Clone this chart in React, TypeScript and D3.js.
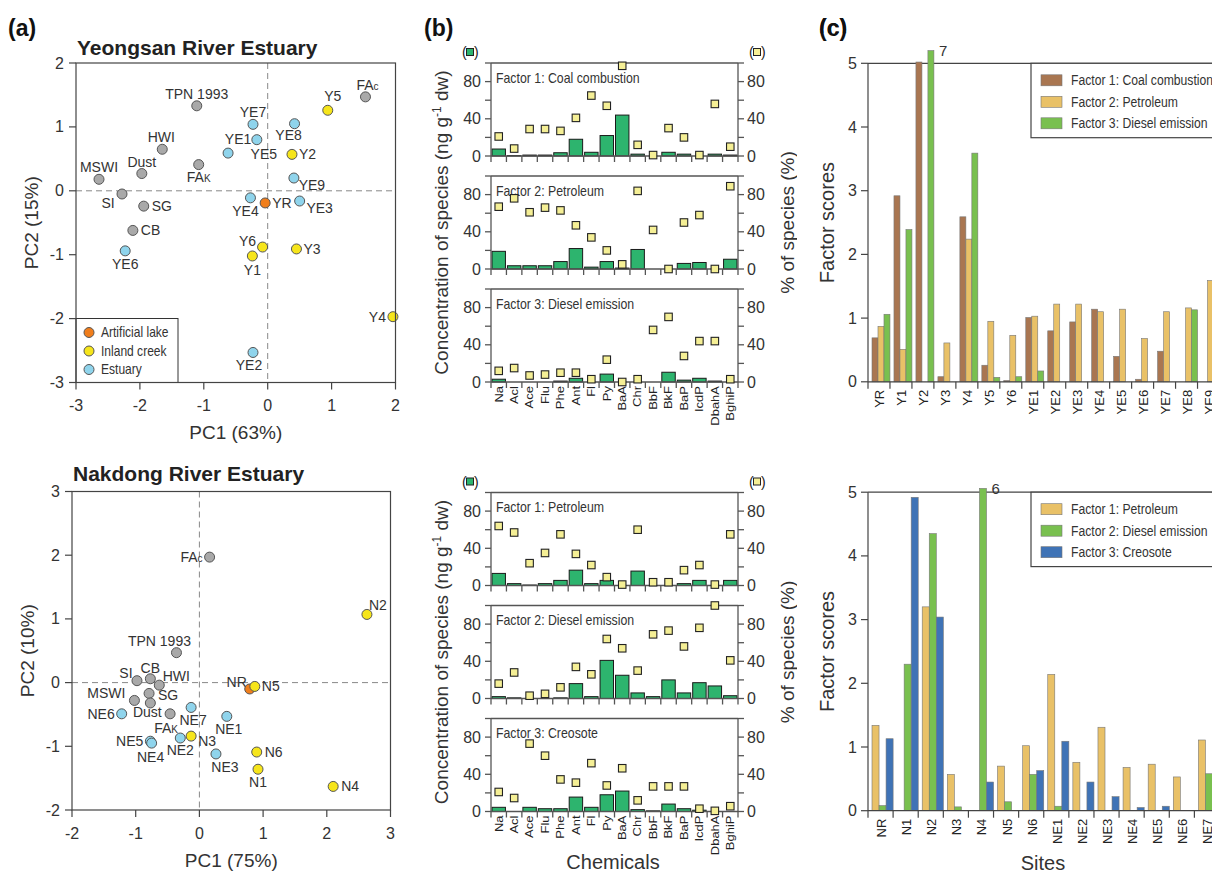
import React from 'react';
import * as d3 from 'd3';

const SANS = 'Arial, "Liberation Sans", Helvetica, sans-serif';

// ---------- (a) PCA scores ----------
const groupNames = ['Source', 'Artificial lake', 'Inland creek', 'Estuary'];
const groupFill = ['#a9a9a9', '#f07e1c', '#f6e51b', '#8fd4ec'];

const ysSites = ['FAc', 'TPN 1993', 'HWI', 'Dust', 'MSWI', 'FAk', 'SI', 'SG', 'CB',
  'YE7', 'YE1', 'YE5', 'YE8', 'YE9', 'YE4', 'YE3', 'YE6', 'YE2', 'YR', 'Y5', 'Y2', 'Y6', 'Y1', 'Y3', 'Y4'];
const ysPC1 = [1.53, -1.11, -1.65, -1.97, -2.64, -1.08, -2.28, -1.94, -2.11,
  -0.23, -0.62, -0.17, 0.42, 0.41, -0.27, 0.5, -2.23, -0.23, -0.04, 0.94, 0.38, -0.08, -0.24, 0.45, 1.96];
const ysPC2 = [1.47, 1.33, 0.65, 0.27, 0.18, 0.41, -0.05, -0.24, -0.62,
  1.04, 0.59, 0.8, 1.05, 0.2, -0.11, -0.16, -0.94, -2.53, -0.19, 1.26, 0.57, -0.88, -1.02, -0.91, -1.97];
const ysGroup = [0, 0, 0, 0, 0, 0, 0, 0, 0, 3, 3, 3, 3, 3, 3, 3, 3, 3, 1, 2, 2, 2, 2, 2, 2];

const ndSites = ['FAc', 'TPN 1993', 'SI', 'CB', 'HWI', 'MSWI', 'SG', 'Dust', 'FAk',
  'NE6', 'NE7', 'NE1', 'NE5', 'NE4', 'NE2', 'NE3', 'NR', 'N3', 'N5', 'N6', 'N1', 'N4', 'N2'];
const ndPC1 = [0.16, -0.36, -0.98, -0.77, -0.63, -1.02, -0.79, -0.77, -0.46,
  -1.22, -0.13, 0.43, -0.77, -0.75, -0.3, 0.26, 0.79, -0.13, 0.87, 0.9, 0.92, 2.1, 2.63];
const ndPC2 = [1.97, 0.47, 0.03, 0.06, -0.04, -0.28, -0.17, -0.32, -0.49,
  -0.49, -0.39, -0.53, -0.92, -0.95, -0.87, -1.12, -0.1, -0.84, -0.06, -1.09, -1.36, -1.63, 1.07];
const ndGroup = [0, 0, 0, 0, 0, 0, 0, 0, 0, 3, 3, 3, 3, 3, 3, 3, 1, 2, 2, 2, 2, 2, 2];

// label placement: [dx, dy, anchor]
const ysLabelPos: Record<string, [number, number, string]> = {
  FAc: [2, -12, 'middle'], 'TPN 1993': [0, -12, 'middle'], HWI: [-1, -12, 'middle'], Dust: [0, -12, 'middle'],
  MSWI: [0, -12, 'middle'], FAk: [0, 12, 'middle'], SI: [-14, 9, 'middle'], SG: [8, 0, 'start'], CB: [8, 0, 'start'],
  YE7: [0, -12, 'middle'], YE1: [10, -14, 'middle'], YE5: [7, 14, 'middle'], YE8: [-6, 11, 'middle'],
  YE9: [18, 7, 'middle'], YE4: [-5, 13, 'middle'], YE3: [20, 7, 'middle'], YE6: [0, 13, 'middle'],
  YE2: [-4, 13, 'middle'], YR: [7, 0, 'start'], Y5: [5, -14, 'middle'], Y2: [7, 0, 'start'],
  Y6: [-15, -6, 'middle'], Y1: [0, 14, 'middle'], Y3: [7, 0, 'start'], Y4: [-7, 0, 'end'],
};
const ndLabelPos: Record<string, [number, number, string]> = {
  FAc: [-7, 0, 'end'], N2: [11, -9, 'middle'], 'TPN 1993': [-17, -12, 'middle'], SI: [-11, -8, 'middle'],
  CB: [0, -11, 'middle'], HWI: [17, -9, 'middle'], MSWI: [-28, -7, 'middle'], SG: [19, 2, 'middle'],
  Dust: [-3, 9, 'middle'], FAk: [-4, 14, 'middle'], NE6: [-7, 0, 'end'], NE7: [2, 13, 'middle'],
  NE1: [2, 13, 'middle'], NE5: [-7, 0, 'end'], NE4: [-1, 14, 'middle'], NE2: [0, 12, 'middle'],
  N3: [16, 5, 'middle'], NE3: [9, 13, 'middle'], NR: [-13, -7, 'middle'], N5: [7, 0, 'start'],
  N6: [8, 0, 'start'], N1: [0, 13, 'middle'], N4: [8, 0, 'start'],
};

// ---------- (b) factor profiles ----------
const chemicals = ['Na', 'Acl', 'Ace', 'Flu', 'Phe', 'Ant', 'Fl', 'Py', 'BaA', 'Chr', 'BbF', 'BkF', 'BaP', 'IcdP', 'DbahA', 'BghiP'];

const ysFactorNames = ['Factor 1: Coal combustion', 'Factor 2: Petroleum', 'Factor 3: Diesel emission'];
const ysConc1 = [7.5, 0.5, 1, 1, 3.5, 18, 4, 22, 44, 2, 0, 4, 2, 0, 2, 1];
const ysPct1 = [21, 8, 29, 29, 27, 41, 65, 54, 97, 12, 1, 30, 20, 1, 56, 10];
const ysConc2 = [19, 3.5, 3.5, 3.5, 8, 22, 2, 8, 1, 21, 0, 0, 6, 7, 0, 10.5];
const ysPct2 = [67, 76, 61, 66, 63, 47, 34, 20, 5, 84, 42, 0, 50, 58, 0, 89];
const ysConc3 = [3, 0, 0, 0, 1, 4, 0, 8.5, 0, 0, 0, 10.5, 2, 4, 1, 0];
const ysPct3 = [12, 15, 7, 8, 10, 10, 3, 24, 0, 3, 56, 70, 28, 44, 44, 3];

const ndFactorNames = ['Factor 1: Petroleum', 'Factor 2: Diesel emission', 'Factor 3: Creosote'];
const ndConc1 = [13, 2, 0.5, 2, 5.5, 16.5, 2, 5.5, 0, 15.5, 0, 0, 2, 5.5, 0, 5.5];
const ndPct1 = [64, 57, 24, 35, 55, 34, 22, 9, 1, 60, 3.5, 3.5, 16.5, 22, 1, 55];
const ndConc2 = [2, 0.7, 0, 0, 0.7, 16, 2, 41, 25, 6, 2, 20, 6, 17, 13.5, 3];
const ndPct2 = [16, 28, 3, 5, 12, 34, 26, 64, 54, 30, 69, 73, 56, 76, 100, 41];
const ndConc3 = [4.5, 0, 4.5, 3, 3, 15.5, 4.5, 18, 22, 2, 0.7, 8, 3, 1.4, 0, 0];
const ndPct3 = [21, 14.5, 73, 60, 34.5, 31, 52, 28, 46.5, 12, 27, 27, 27, 3, 0.7, 5.7];

// ---------- (c) factor scores ----------
const ysScoreSites = ['YR', 'Y1', 'Y2', 'Y3', 'Y4', 'Y5', 'Y6', 'YE1', 'YE2', 'YE3', 'YE4', 'YE5', 'YE6', 'YE7', 'YE8', 'YE9'];
const ysScore1 = [0.69, 2.92, 5.02, 0.08, 2.59, 0.26, 0.02, 1.01, 0.8, 0.94, 1.14, 0.4, 0.04, 0.48, 0, 0];
const ysScore2 = [0.87, 0.51, 0, 0.61, 2.24, 0.95, 0.73, 1.03, 1.22, 1.22, 1.1, 1.14, 0.68, 1.1, 1.16, 1.59];
const ysScore3 = [1.06, 2.39, 5.2, 0, 3.59, 0.07, 0.08, 0.17, 0, 0, 0, 0, 0, 0, 1.13, 0.75];
const ysScoreNames = ['Factor 1: Coal combustion', 'Factor 2: Petroleum', 'Factor 3: Diesel emission'];
const ysOffScale = { site: 'Y2', series: 2, label: '7' };

const ndScoreSites = ['NR', 'N1', 'N2', 'N3', 'N4', 'N5', 'N6', 'NE1', 'NE2', 'NE3', 'NE4', 'NE5', 'NE6', 'NE7'];
const ndScore1 = [1.34, 0, 3.2, 0.57, 0, 0.7, 1.02, 2.14, 0.76, 1.31, 0.68, 0.73, 0.53, 1.11];
const ndScore2 = [0.08, 2.3, 4.35, 0.06, 5.06, 0.14, 0.57, 0.07, 0, 0, 0, 0, 0, 0.58];
const ndScore3 = [1.13, 4.92, 3.04, 0, 0.45, 0, 0.63, 1.09, 0.45, 0.22, 0.05, 0.07, 0, 1.82];
const ndScoreNames = ['Factor 1: Petroleum', 'Factor 2: Diesel emission', 'Factor 3: Creosote'];
const ndOffScale = { site: 'N4', series: 1, label: '6' };

const COAL = '#a97651';
const PETRO = '#e9c167';
const DIESEL = '#79c04f';
const CREO = '#3f73b6';

// condensed-looking text (no narrow font installed, so squeeze horizontally)
function Narrow({ x, y, size = 14, squeeze = 0.86, children }: any) {
  return (
    <text transform={`translate(${x},${y}) scale(${squeeze},1)`} dominantBaseline="central" fontSize={size} fill="#333" fontFamily={SANS}>
      {children}
    </text>
  );
}

function SiteLabel({ name, x, y, anchor }: any) {
  if (name === 'FAc' || name === 'FAk') {
    return (
      <text x={x} y={y} textAnchor={anchor} dominantBaseline="central" fontSize={14} fill="#333" fontFamily={SANS}>
        FA<tspan fontSize={10} dy={1}>{name === 'FAc' ? 'c' : 'K'}</tspan>
      </text>
    );
  }
  return (
    <text x={x} y={y} textAnchor={anchor} dominantBaseline="central" fontSize={14} fill="#333" fontFamily={SANS}>{name}</text>
  );
}

function PcaPlot({ title, titleY, sites, pc1, pc2, group, labelPos, xDomain, yDomain, left, top, size, xTitle, yTitle, legend }: any) {
  const x = d3.scaleLinear().domain(xDomain).range([left, left + size]);
  const y = d3.scaleLinear().domain(yDomain).range([top + size, top]);
  const bottom = top + size;
  return (
    <g fontFamily={SANS}>
      <text x={left + 1} y={titleY} fontSize={21} fontWeight="bold" fill="#222" dominantBaseline="central">{title}</text>
      <line x1={x(0)} x2={x(0)} y1={top} y2={bottom} stroke="#888" strokeDasharray="6,4" />
      <line x1={left} x2={left + size} y1={y(0)} y2={y(0)} stroke="#888" strokeDasharray="6,4" />
      {legend && (
        <g>
          <rect x={left} y={bottom - 64} width={102} height={64} fill="white" stroke="#333" />
          {groupNames.slice(1).map((g, i) => (
            <g key={g}>
              <circle cx={left + 13} cy={bottom - 50 + i * 18.5} r={5} fill={groupFill[i + 1]} stroke="#555" />
              <Narrow x={left + 25} y={bottom - 50 + i * 18.5}>{g}</Narrow>
            </g>
          ))}
        </g>
      )}
      {sites.map((s: string, i: number) => {
        const [dx, dy, anchor] = labelPos[s];
        return <SiteLabel key={'l' + s} name={s} x={x(pc1[i]) + dx} y={y(pc2[i]) + dy} anchor={anchor} />;
      })}
      {sites.map((s: string, i: number) => (
        <circle key={'c' + s} cx={x(pc1[i])} cy={y(pc2[i])} r={5} fill={groupFill[group[i]]} stroke="#555" strokeWidth={1} />
      ))}
      <rect x={left} y={top} width={size} height={size} fill="none" stroke="#444" strokeWidth={1.2} />
      {x.ticks(5).map((t) => (
        <g key={'x' + t}>
          <line x1={x(t)} x2={x(t)} y1={bottom} y2={bottom + 7} stroke="#444" strokeWidth={1.2} />
          <text x={x(t)} y={bottom + 23} textAnchor="middle" dominantBaseline="central" fontSize={16} fill="#333">{t}</text>
        </g>
      ))}
      {y.ticks(5).map((t) => (
        <g key={'y' + t}>
          <line x1={left - 7} x2={left} y1={y(t)} y2={y(t)} stroke="#444" strokeWidth={1.2} />
          <text x={left - 12} y={y(t)} textAnchor="end" dominantBaseline="central" fontSize={16} fill="#333">{t}</text>
        </g>
      ))}
      <text x={left + size / 2} y={bottom + 50} textAnchor="middle" dominantBaseline="central" fontSize={19} fill="#333">{xTitle}</text>
      <text transform={`translate(${left - 45},${top + size / 2}) rotate(-90)`} textAnchor="middle" dominantBaseline="central" fontSize={19} fill="#333">{yTitle}</text>
    </g>
  );
}

function ProfileGroup({ top, names, conc, pct }: any) {
  const left = 491;
  const right = 738;
  const h = 93;
  const gap = 113;
  const x = d3.scaleBand().domain(chemicals).range([left, right]).padding(0);
  const bounds = chemicals.map((c) => x(c) as number).concat([right]);
  return (
    <g fontFamily={SANS}>
      <text x={462} y={top - 11} fontSize={14} dominantBaseline="central" fill="#222">(</text>
      <rect x={466.5} y={top - 14.5} width={7} height={7} fill="#2db46e" stroke="#222" />
      <text x={474} y={top - 11} fontSize={14} dominantBaseline="central" fill="#222">)</text>
      <text x={749} y={top - 11} fontSize={14} dominantBaseline="central" fill="#222">(</text>
      <rect x={753.5} y={top - 14.5} width={7} height={7} fill="#f5ef95" stroke="#222" />
      <text x={761} y={top - 11} fontSize={14} dominantBaseline="central" fill="#222">)</text>
      {names.map((name: string, k: number) => {
        const pTop = top + k * gap;
        const y = d3.scaleLinear().domain([0, 100]).range([pTop + h, pTop]);
        const ticks = [0, 20, 40, 60, 80, 100];
        return (
          <g key={name}>
            {chemicals.map((c, i) => (
              <rect key={c} x={(x(c) as number) + 1} width={x.bandwidth() - 2} y={y(conc[k][i])} height={y(0) - y(conc[k][i])}
                fill="#2db46e" stroke="#1a1a1a" strokeWidth={1} />
            ))}
            <line x1={left} x2={right} y1={pTop} y2={pTop} stroke="#555" strokeWidth={1.3} />
            <line x1={left} x2={right} y1={y(0)} y2={y(0)} stroke="#555" strokeWidth={1.3} />
            <line x1={left} x2={left} y1={pTop} y2={y(0)} stroke="#555" strokeWidth={1.3} />
            <line x1={right} x2={right} y1={pTop} y2={y(0)} stroke="#555" strokeWidth={1.3} />
            {bounds.map((b, i) => (
              <line key={'t' + i} x1={b} x2={b} y1={y(0)} y2={y(0) + 6} stroke="#555" strokeWidth={1.3} />
            ))}
            {ticks.map((t) => (
              <g key={'y' + t}>
                <line x1={left - 6} x2={left} y1={y(t)} y2={y(t)} stroke="#555" strokeWidth={1.3} />
                <line x1={right} x2={right + 6} y1={y(t)} y2={y(t)} stroke="#555" strokeWidth={1.3} />
                {t % 40 === 0 && t < 100 && (
                  <>
                    <text x={left - 10} y={y(t)} textAnchor="end" dominantBaseline="central" fontSize={16} fill="#333">{t}</text>
                    <text x={right + 9} y={y(t)} textAnchor="start" dominantBaseline="central" fontSize={16} fill="#333">{t}</text>
                  </>
                )}
              </g>
            ))}
            <Narrow x={left + 5} y={pTop + 15} squeeze={0.88}>{name}</Narrow>
            {chemicals.map((c, i) => (
              <rect key={'p' + c} x={(x(c) as number) + x.bandwidth() / 2 - 3.75} y={y(pct[k][i]) - 3.75} width={7.5} height={7.5}
                fill="#f5ef95" stroke="#222" strokeWidth={1.1} />
            ))}
            {k === names.length - 1 && chemicals.map((c) => (
              <text key={'lab' + c} transform={`translate(${(x(c) as number) + x.bandwidth() / 2},${y(0) + 4}) rotate(-90) scale(1,0.9)`}
                textAnchor="end" dominantBaseline="central" fontSize={13} fontFamily={SANS} fill="#222">{c}</text>
            ))}
          </g>
        );
      })}
      <text transform={`translate(448,${top + (2 * gap + h) / 2}) rotate(-90)`} textAnchor="middle" fontSize={19} fill="#333">
        Concentration of species (ng g<tspan fontSize={12} dy={-7}>-1</tspan><tspan dy={7}> dw)</tspan>
      </text>
      <text transform={`translate(794,${top + (2 * gap + h) / 2}) rotate(-90)`} textAnchor="middle" fontSize={19} fill="#333">% of species (%)</text>
    </g>
  );
}

function ScoreChart({ top, sites, series, names, colors, offScale, xTitle }: any) {
  const left = 868;
  const right = 1219.5;
  const h = 318.5;
  const x = d3.scaleBand().domain(sites).range([left, right]).padding(0);
  const sub = d3.scaleBand().domain(['0', '1', '2']).range([4, x.bandwidth()]).padding(0);
  const y = d3.scaleLinear().domain([0, 5]).range([top + h, top]);
  const bounds = sites.map((s: string) => x(s) as number).concat([right]);
  const offSite = x(offScale.site) as number;
  const offX = offSite + (sub(String(offScale.series)) as number) + sub.bandwidth();
  const offY = y(series[offScale.series][sites.indexOf(offScale.site)]);
  return (
    <g fontFamily={SANS}>
      <rect x={797} y={top - 30} width={415} height={h + 100} fill="white" />
      <line x1={left} x2={1212} y1={top} y2={top} stroke="#444" strokeWidth={1.2} />
      {sites.map((s: string, i: number) => (
        <g key={s}>
          {series.map((vals: number[], k: number) => vals[i] > 0 && (
            <rect key={k} x={(x(s) as number) + (sub(String(k)) as number)} width={sub.bandwidth()} y={y(vals[i])} height={y(0) - y(vals[i])}
              fill={colors[k]} stroke="#777" strokeWidth={0.6} />
          ))}
          <text transform={`translate(${(x(s) as number) + x.bandwidth() / 2 + 1},${y(0) + 8}) rotate(-90)`} textAnchor="end" dominantBaseline="central"
            fontSize={13} fill="#222">{s}</text>
        </g>
      ))}
      <text x={offX + 5} y={offY} dominantBaseline="central" fontSize={15} fill="#333">{offScale.label}</text>
      <line x1={left} x2={left} y1={top} y2={y(0)} stroke="#444" strokeWidth={1.2} />
      <line x1={left} x2={right} y1={y(0)} y2={y(0)} stroke="#444" strokeWidth={1.2} />
      {bounds.map((b: number, i: number) => (
        <line key={'b' + i} x1={b} x2={b} y1={y(0)} y2={y(0) + 7} stroke="#444" strokeWidth={1.2} />
      ))}
      {y.ticks(5).map((t) => (
        <g key={'y' + t}>
          <line x1={left - 7} x2={left} y1={y(t)} y2={y(t)} stroke="#444" strokeWidth={1.2} />
          <text x={left - 11} y={y(t)} textAnchor="end" dominantBaseline="central" fontSize={16} fill="#333">{t}</text>
        </g>
      ))}
      <rect x={1031} y={top} width={200} height={74.4} fill="white" stroke="#444" strokeWidth={1.2} />
      {names.map((n: string, k: number) => (
        <g key={n}>
          <rect x={1041} y={top + 17 + k * 21.5 - 5.5} width={21} height={11} fill={colors[k]} stroke="#777" strokeWidth={0.6} />
          <Narrow x={1071} y={top + 17 + k * 21.5} squeeze={0.87}>{n}</Narrow>
        </g>
      ))}
      <text transform={`translate(834,${top + h / 2}) rotate(-90)`} textAnchor="middle" fontSize={20} fill="#333">Factor scores</text>
      {xTitle && <text x={1043} y={863} textAnchor="middle" dominantBaseline="central" fontSize={20} fill="#333">{xTitle}</text>}
    </g>
  );
}

export default function App() {
  return (
    <svg width={1212} height={873} viewBox="0 0 1212 873" style={{ position: 'absolute', left: 0, top: 0, background: 'white' }}>
      <rect width={1212} height={873} fill="white" />
      <g fontFamily={SANS} fontWeight="bold" fontSize={23} fill="#111">
        <text x={8} y={28} dominantBaseline="central">(a)</text>
        <text x={424} y={28} dominantBaseline="central">(b)</text>
        <text x={819} y={28} dominantBaseline="central">(c)</text>
      </g>
      <PcaPlot title="Yeongsan River Estuary" titleY={47} sites={ysSites} pc1={ysPC1} pc2={ysPC2} group={ysGroup} labelPos={ysLabelPos}
        xDomain={[-3, 2]} yDomain={[-3, 2]} left={76} top={63} size={319.5} xTitle="PC1 (63%)" yTitle="PC2 (15%)" legend />
      <PcaPlot title="Nakdong River Estuary" titleY={473} sites={ndSites} pc1={ndPC1} pc2={ndPC2} group={ndGroup} labelPos={ndLabelPos}
        xDomain={[-2, 3]} yDomain={[-2, 3]} left={72} top={491.5} size={318.5} xTitle="PC1 (75%)" yTitle="PC2 (10%)" />
      <ProfileGroup top={63} names={ysFactorNames} conc={[ysConc1, ysConc2, ysConc3]} pct={[ysPct1, ysPct2, ysPct3]} />
      <ProfileGroup top={492.5} names={ndFactorNames} conc={[ndConc1, ndConc2, ndConc3]} pct={[ndPct1, ndPct2, ndPct3]} />
      <text x={613} y={862} textAnchor="middle" dominantBaseline="central" fontSize={20} fontFamily={SANS} fill="#333">Chemicals</text>
      <ScoreChart top={63.3} sites={ysScoreSites} series={[ysScore1, ysScore2, ysScore3]} names={ysScoreNames}
        colors={[COAL, PETRO, DIESEL]} offScale={ysOffScale} />
      <ScoreChart top={492.2} sites={ndScoreSites} series={[ndScore1, ndScore2, ndScore3]} names={ndScoreNames}
        colors={[PETRO, DIESEL, CREO]} offScale={ndOffScale} xTitle="Sites" />
      <g fontFamily={SANS} fontWeight="bold" fontSize={23} fill="#111">
        <text x={819} y={28} dominantBaseline="central">(c)</text>
      </g>
    </svg>
  );
}
